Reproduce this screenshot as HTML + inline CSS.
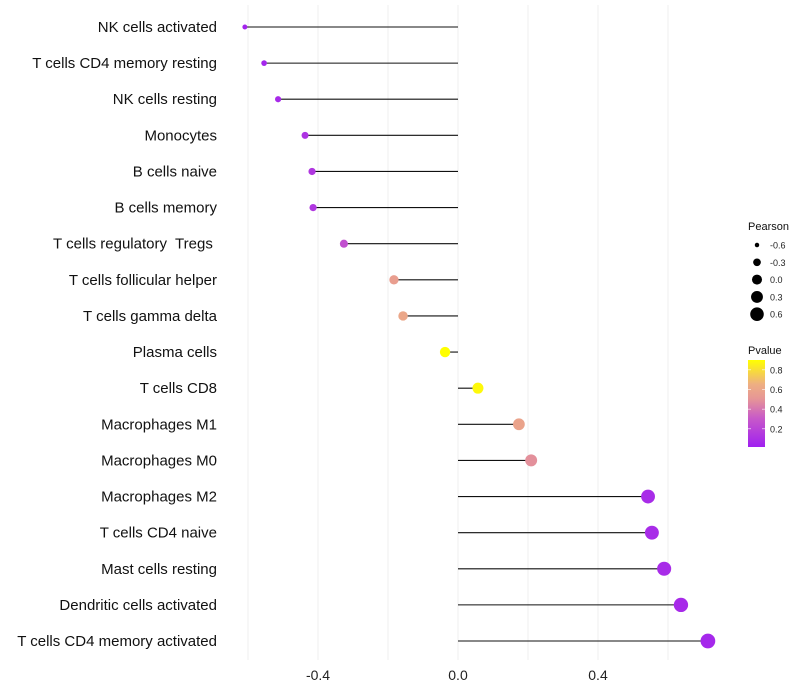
<!DOCTYPE html>
<html><head><meta charset="utf-8"><style>
body{margin:0;background:#fff;}
svg{display:block;font-family:"Liberation Sans",sans-serif;}
text{white-space:pre;}
</style></head><body>
<svg id="chart" width="800" height="700" viewBox="0 0 800 700"></svg>
<script>
const categories=["NK cells activated","T cells CD4 memory resting","NK cells resting","Monocytes","B cells naive","B cells memory","T cells regulatory  Tregs ","T cells follicular helper","T cells gamma delta","Plasma cells","T cells CD8","Macrophages M1","Macrophages M0","Macrophages M2","T cells CD4 naive","Mast cells resting","Dendritic cells activated","T cells CD4 memory activated"];
const pearson=[-0.609,-0.554,-0.514,-0.437,-0.417,-0.414,-0.326,-0.183,-0.157,-0.037,0.057,0.174,0.209,0.543,0.554,0.589,0.637,0.714];
const pvalue=[0.02,0.03,0.05,0.1,0.12,0.12,0.25,0.55,0.6,0.9,0.88,0.58,0.48,0.06,0.06,0.06,0.05,0.04];
const xTicks=[-0.4,0.0,0.4];
const xGrid=[-0.6,-0.4,-0.2,0,0.2,0.4,0.6];
const sizeLegend=[-0.6,-0.3,0.0,0.3,0.6];
const colorLegend=[0.8,0.6,0.4,0.2];
const NS="http://www.w3.org/2000/svg";
const svg=document.getElementById('chart');
function mk(t,a,p){const e=document.createElementNS(NS,t);for(const k in a)e.setAttribute(k,a[k]);(p||svg).appendChild(e);return e;}
const x=v=>458+v*350;
const y=i=>27+i*(641-27)/(categories.length-1);
const rad=v=>Math.sqrt(Math.max(1,6+48*(v+0.61)/1.32));
const stops=[[0,[160,32,240]],[0.3,[200,90,200]],[0.5,[230,150,150]],[0.65,[238,175,130]],[0.9,[255,255,0]]];
function col(p){p=Math.max(0,Math.min(0.9,p));for(let i=1;i<stops.length;i++){if(p<=stops[i][0]){const a=stops[i-1],b=stops[i],t=(p-a[0])/(b[0]-a[0]);const c=a[1].map((v,k)=>Math.round(v+(b[1][k]-v)*t));return `rgb(${c})`;}}return 'rgb(255,255,0)';}
xGrid.forEach(g=>{const l=mk('line',{x1:x(g),x2:x(g),y1:5,y2:660,stroke:'#ebebeb','stroke-width':0.8});
});
xTicks.forEach(t=>{const e=mk('text',{x:x(t),y:680,'text-anchor':'middle','font-size':14,fill:'#222'});e.textContent=t.toFixed(1);
});
categories.forEach((c,i)=>{
const t=mk('text',{x:217,y:y(i)+5,'text-anchor':'end','font-size':15,fill:'#111'});t.textContent=c;

const l=mk('line',{x1:x(0),x2:x(pearson[i]),y1:y(i),y2:y(i),stroke:'#111','stroke-width':1.1});

const d=mk('circle',{cx:x(pearson[i]),cy:y(i),r:rad(pearson[i]),fill:col(pvalue[i])});

});
const lt=mk('text',{x:748,y:230,'font-size':11,fill:'#111'});lt.textContent='Pearson';

sizeLegend.forEach((v,i)=>{const cy=245+i*17.3;
const c=mk('circle',{cx:757,cy:cy,r:rad(v)-0.3,fill:'#000'});
const t=mk('text',{x:770,y:cy+3.5,'font-size':9,fill:'#222'});t.textContent=v.toFixed(1);});
const pt=mk('text',{x:748,y:354,'font-size':11,fill:'#111'});pt.textContent='Pvalue';

const defs=mk('defs',{});const lg=mk('linearGradient',{id:'pg',x1:0,y1:1,x2:0,y2:0},defs);
stops.forEach(s=>mk('stop',{offset:(s[0]/0.9),'stop-color':`rgb(${s[1]})`},lg));
const bar=mk('rect',{x:748,y:360,width:17,height:87,fill:'url(#pg)'});
const py=p=>447-(p-0.015)/(0.9-0.015)*87;
colorLegend.forEach(p=>{
mk('line',{x1:748,x2:751,y1:py(p),y2:py(p),stroke:'#fff','stroke-width':0.6});
mk('line',{x1:762,x2:765,y1:py(p),y2:py(p),stroke:'#fff','stroke-width':0.6});
const t=mk('text',{x:770,y:py(p)+3.5,'font-size':9,fill:'#222'});t.textContent=p.toFixed(1);
});
</script>
</body></html>
